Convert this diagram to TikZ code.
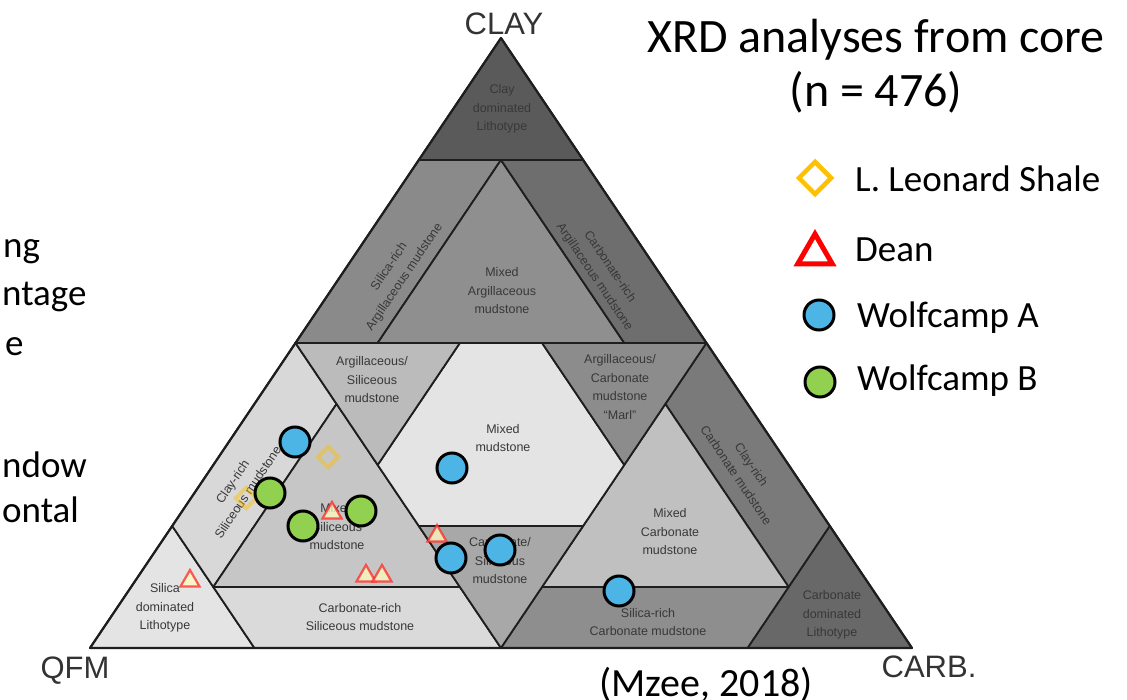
\documentclass[tikz,border=0pt]{standalone}
\usepackage{fontspec}
\setmainfont{Carlito}
\newfontfamily\arialf{Liberation Sans}
\usetikzlibrary{shapes.geometric}
\definecolor{cClayDom}{HTML}{5A5A5A}
\definecolor{cSilArg}{HTML}{8A8A8A}
\definecolor{cMixArg}{HTML}{8F8F8F}
\definecolor{cCarArg}{HTML}{6E6E6E}
\definecolor{cArgSil}{HTML}{BBBBBB}
\definecolor{cMixed}{HTML}{E4E4E4}
\definecolor{cMarl}{HTML}{8C8C8C}
\definecolor{cCarSil}{HTML}{A8A8A8}
\definecolor{cClaySil}{HTML}{D8D8D8}
\definecolor{cMixSil}{HTML}{C6C6C6}
\definecolor{cSilDom}{HTML}{E4E4E4}
\definecolor{cCarRichSil}{HTML}{DADADA}
\definecolor{cClayCar}{HTML}{7A7A7A}
\definecolor{cMixCar}{HTML}{C0C0C0}
\definecolor{cSilCar}{HTML}{8E8E8E}
\definecolor{cCarDom}{HTML}{686868}
\definecolor{cLine}{HTML}{1E1E1E}
\definecolor{cLab}{HTML}{383838}
\definecolor{cBlue}{HTML}{4DB5E6}
\definecolor{cGreen}{HTML}{92D050}
\definecolor{cGold}{HTML}{FFC000}
\definecolor{cApex}{HTML}{333333}
\tikzset{
  region/.style={draw=cLine, line width=1.8pt, line join=round},
  lab/.style={font=\arialf\fontsize{12.5}{18.5}\selectfont, text=cLab, align=center, inner sep=0pt},
  apex/.style={font=\arialf\fontsize{31}{31}\selectfont, text=cApex, inner sep=0pt},
  slide/.style={font=\fontsize{37}{44}\selectfont, inner sep=0pt, anchor=base west},
  legtext/.style={font=\fontsize{37}{44}\selectfont, inner sep=0pt, anchor=base west},
  wolfA/.style={circle, draw=black, line width=3pt, fill=cBlue, minimum size=30pt, inner sep=0pt},
  wolfB/.style={circle, draw=black, line width=3pt, fill=cGreen, minimum size=30pt, inner sep=0pt},
  oldtri/.style={regular polygon, regular polygon sides=3, minimum size=22pt, inner sep=0pt, draw=red!85!white, line width=2.2pt, fill=yellow!25!white, opacity=0.75},
  olddia/.style={diamond, minimum size=22pt, inner sep=0pt, draw=cGold, line width=4pt, opacity=0.45},
}
\begin{document}
\begin{tikzpicture}[x=1pt,y=-1pt]
\useasboundingbox (0,0) rectangle (1127,700);
\fill[white] (0,0) rectangle (1127,700);
\coordinate (L) at (90,648);
\coordinate (A) at (501,38);
\coordinate (R) at (912,648);
\foreach \q/\c/\k in {0/10/0,2/8/0,0/8/2,1/8/1,5/5/0,4/5/1,1/5/4,0/5/5,
  10/0/0,8/2/0,8/0/2,8/1/1,5/4/1,5/1/4,5/0/5,
  0/0/10,2/0/8,0/2/8,1/1/8,1/4/5,4/1/5,
  3/5/2,5/3/2,2/5/3,2/3/5,5/2/3,3/2/5}
  \coordinate (p-\q-\c-\k) at (barycentric cs:L=\q,A=\c,R=\k);
% clay corner
\filldraw[region, fill=cClayDom] (p-2-8-0) -- (p-0-10-0) -- (p-0-8-2) -- cycle;
\filldraw[region, fill=cSilArg] (p-5-5-0) -- (p-2-8-0) -- (p-1-8-1) -- (p-4-5-1) -- cycle;
\filldraw[region, fill=cMixArg] (p-1-8-1) -- (p-4-5-1) -- (p-1-5-4) -- cycle;
\filldraw[region, fill=cCarArg] (p-1-8-1) -- (p-0-8-2) -- (p-0-5-5) -- (p-1-5-4) -- cycle;
% qfm corner
\filldraw[region, fill=cSilDom] (p-10-0-0) -- (p-8-2-0) -- (p-8-0-2) -- cycle;
\filldraw[region, fill=cClaySil] (p-8-2-0) -- (p-5-5-0) -- (p-5-4-1) -- (p-8-1-1) -- cycle;
\filldraw[region, fill=cMixSil] (p-8-1-1) -- (p-5-4-1) -- (p-5-1-4) -- cycle;
\filldraw[region, fill=cCarRichSil] (p-8-0-2) -- (p-8-1-1) -- (p-5-1-4) -- (p-5-0-5) -- cycle;
% carb corner
\filldraw[region, fill=cCarDom] (p-0-0-10) -- (p-2-0-8) -- (p-0-2-8) -- cycle;
\filldraw[region, fill=cClayCar] (p-0-2-8) -- (p-0-5-5) -- (p-1-4-5) -- (p-1-1-8) -- cycle;
\filldraw[region, fill=cMixCar] (p-1-1-8) -- (p-1-4-5) -- (p-4-1-5) -- cycle;
\filldraw[region, fill=cSilCar] (p-2-0-8) -- (p-1-1-8) -- (p-4-1-5) -- (p-5-0-5) -- cycle;
% central
\filldraw[region, fill=cMixed] (p-3-5-2) -- (p-2-5-3) -- (p-2-3-5) -- (p-3-2-5) -- (p-5-2-3) -- (p-5-3-2) -- cycle;
\filldraw[region, fill=cArgSil] (p-5-5-0) -- (p-3-5-2) -- (p-5-3-2) -- cycle;
\filldraw[region, fill=cMarl] (p-0-5-5) -- (p-2-5-3) -- (p-2-3-5) -- cycle;
\filldraw[region, fill=cCarSil] (p-5-0-5) -- (p-5-2-3) -- (p-3-2-5) -- cycle;
\draw[cLine, line width=2.2pt, line join=round] (L) -- (A) -- (R) -- cycle;

% region labels
\node[lab] (lClayDom) at (502,109) {Clay\\dominated\\Lithotype};
\node[lab, rotate=56] (lSilArg) at (397,272) {Silica-rich\\Argillaceous mudstone};
\node[lab] (lMixArg) at (502,291) {Mixed\\Argillaceous\\mudstone};
\node[lab, rotate=-56] (lCarArg) at (602,272) {Carbonate-rich\\Argillaceous mudstone};
\node[lab] (lArgSil) at (372,380) {Argillaceous/\\Siliceous\\mudstone};
\node[lab] (lMixed) at (503,438) {Mixed\\mudstone};
\node[lab] (lMarl) at (620,387) {Argillaceous/\\Carbonate\\mudstone\\“Marl”};
\node[lab, rotate=-56] (lClayCar) at (744,470) {Clay-rich\\Carbonate mudstone};
\node[lab] (lMixCar) at (670,532) {Mixed\\Carbonate\\mudstone};
\node[lab] (lCarSil) at (500,561) {Carbonate/\\Siliceous\\mudstone};
\node[lab, rotate=56] (lClaySil) at (240,487) {Clay-rich\\Siliceous mudstone};
\node[lab] (lMixSil) at (337,527) {Mixed\\Siliceous\\mudstone};
\node[lab] (lSilDom) at (165,608) {Silica\\dominated\\Lithotype};
\node[lab] (lCarRichSil) at (360,617) {Carbonate-rich\\Siliceous mudstone};
\node[lab] (lSilCar) at (648,622) {Silica-rich\\Carbonate mudstone};
\node[lab] (lCarDom) at (832,615) {Carbonate\\dominated\\Lithotype};

% apex labels
\node[apex, anchor=base] (nClay) at (504,35) {CLAY};
\node[apex, anchor=base] (nQFM) at (75,678) {QFM};
\node[apex, anchor=base] (nCarb) at (929,677) {CARB.};

% faded markers of the source figure
\node[olddia] (d1) at (328,457) {};
\node[olddia] (d2) at (246,498) {};
\node[oldtri] (t1) at (190,581) {};
\node[oldtri] (t2) at (332,513) {};
\node[oldtri] (t3) at (366,576) {};
\node[oldtri] (t4) at (382,576) {};
\node[oldtri] (t5) at (437,536) {};

% overlay markers
\node[wolfA] (a1) at (295,442) {};
\node[wolfA] (a2) at (452,468) {};
\node[wolfA] (a3) at (451,558) {};
\node[wolfA] (a4) at (500,550) {};
\node[wolfA] (a5) at (619,591) {};
\node[wolfB] (b1) at (270,493) {};
\node[wolfB] (b2) at (303,526) {};
\node[wolfB] (b3) at (361,511) {};

% title
\node[font=\fontsize{48}{56}\selectfont, inner sep=0pt, anchor=base] (title1) at (876,53) {XRD analyses from core};
\node[font=\fontsize{48}{56}\selectfont, inner sep=0pt, anchor=base] (title2) at (876,107) {(n = 476)};

% legend
\node[diamond, draw=cGold, line width=4.5pt, minimum size=34pt, inner sep=0pt] (kL) at (815,178) {};
\node[legtext] (tL) at (855,192) {L. Leonard Shale};
\node[regular polygon, regular polygon sides=3, draw=red, line width=5pt, minimum size=40pt, inner sep=0pt, fill=white] (kD) at (815,254) {};
\node[legtext] (tD) at (855,262) {Dean};
\node[wolfA] (kA) at (819,315) {};
\node[legtext] (tA) at (857,328) {Wolfcamp A};
\node[wolfB] (kB) at (820,382) {};
\node[legtext] (tB) at (857,391) {Wolfcamp B};

% source
\node[font=\fontsize{40}{48}\selectfont, inner sep=0pt, anchor=base] (src) at (706,696) {(Mzee, 2018)};

% cut-off slide text
\node[slide] (s1) at (3,258) {ng};
\node[slide] (s2) at (2,306) {ntage};
\node[slide] (s3) at (5,356) {e};
\node[slide] (s4) at (2,477) {ndow};
\node[slide] (s5) at (2,522) {ontal};
\end{tikzpicture}
\end{document}
